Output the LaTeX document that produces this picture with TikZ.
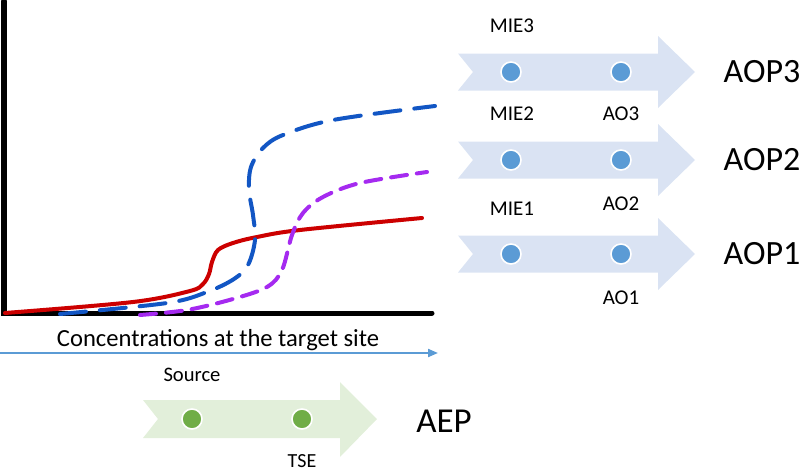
\documentclass[tikz,border=0pt]{standalone}
\usepackage{fontspec}
\setmainfont{Carlito}
\usetikzlibrary{arrows.meta}
\definecolor{redc}{HTML}{CC0000}
\definecolor{bluec}{HTML}{1256C4}
\definecolor{purpc}{HTML}{A52AF0}
\definecolor{lightblue}{HTML}{DAE3F3}
\definecolor{dotblue}{HTML}{5B9BD5}
\definecolor{lightgreen}{HTML}{E2EFDA}
\definecolor{dotgreen}{HTML}{70AD47}
\definecolor{linkblue}{HTML}{5B9BD5}
\tikzset{
  dotb/.style={circle,fill=dotblue,draw=white,line width=0.8pt,minimum size=10pt,inner sep=0pt},
  dotg/.style={circle,fill=dotgreen,draw=white,line width=0.8pt,minimum size=10pt,inner sep=0pt},
  smalllab/.style={font=\fontsize{10.5}{12}\selectfont,inner sep=0pt},
  biglab/.style={font=\fontsize{17}{20}\selectfont,inner sep=0pt},
  curve/.style={line width=2pt,line cap=round},
}
\begin{document}
\begin{tikzpicture}[x=0.5pt,y=-0.5pt]
\useasboundingbox (0,0) rectangle (800,471);
% axes
\draw[line width=2.5pt,line cap=round] (4,1) -- (4,313) -- (432,313);
% curves
\draw[curve,redc] plot[smooth,tension=0.55] coordinates {(5,313) (133,302) (190,291) (203,284) (209,274) (212,262) (218,250) (233,243) (257,237) (300,230) (422,218)};
\draw[curve,bluec,dash pattern=on 13pt off 7pt] plot[smooth,tension=0.55] coordinates {(60,314) (167,303) (207,292) (234,279) (248,265) (255,240) (253,215) (249,190) (251,167) (263,148) (283,135) (333,120) (435,106)};
\draw[curve,purpc,dash pattern=on 8pt off 5pt] plot[smooth,tension=0.55] coordinates {(140,315) (187,310) (233,299) (267,287) (282,270) (292,235) (303,213) (323,197) (360,183) (427,172)};
% concentration arrow
\coordinate (cs) at (0,353);
\coordinate (ce) at (438,353);
\draw[linkblue,line width=1pt,-{Triangle[length=5pt,width=4pt]}] (cs) -- (ce);
\node[font=\fontsize{12.3}{14}\selectfont,inner sep=0pt] (conc) at (218,340) {Concentrations at the target site};
% AOP arrows
\foreach \yc/\nm in {72/3,160/2,254/1}{
  \fill[lightblue] (458,\yc-18.5) -- (658,\yc-18.5) -- (658,\yc-36) -- (695,\yc) -- (658,\yc+36) -- (658,\yc+18.5) -- (458,\yc+18.5) -- (473,\yc) -- cycle;
  \node[dotb] (mie\nm) at (511,\yc) {};
  \node[dotb] (ao\nm) at (621,\yc) {};
  \node[biglab] (aop\nm) at (762,\yc) {AOP\nm};
}
\node[smalllab] (lmie3) at (512,26) {MIE3};
\node[smalllab] (lmie2) at (512,114) {MIE2};
\node[smalllab] (lao3) at (621,114) {AO3};
\node[smalllab] (lmie1) at (512,209) {MIE1};
\node[smalllab] (lao2) at (621,204) {AO2};
\node[smalllab] (lao1) at (621,298) {AO1};
% AEP arrow
\fill[lightgreen] (143,400) -- (340,400) -- (340,382) -- (377,419) -- (340,457) -- (340,438) -- (143,438) -- (158,419) -- cycle;
\node[dotg] (src) at (192,419) {};
\node[dotg] (tse) at (302,419) {};
\node[smalllab,font=\fontsize{10.3}{12}\selectfont] (lsrc) at (192,375) {Source};
\node[smalllab,font=\fontsize{10}{12}\selectfont] (ltse) at (302,461) {TSE};
\node[font=\fontsize{17.5}{20}\selectfont,inner sep=0pt] (aep) at (444,421) {AEP};
\end{tikzpicture}
\end{document}
